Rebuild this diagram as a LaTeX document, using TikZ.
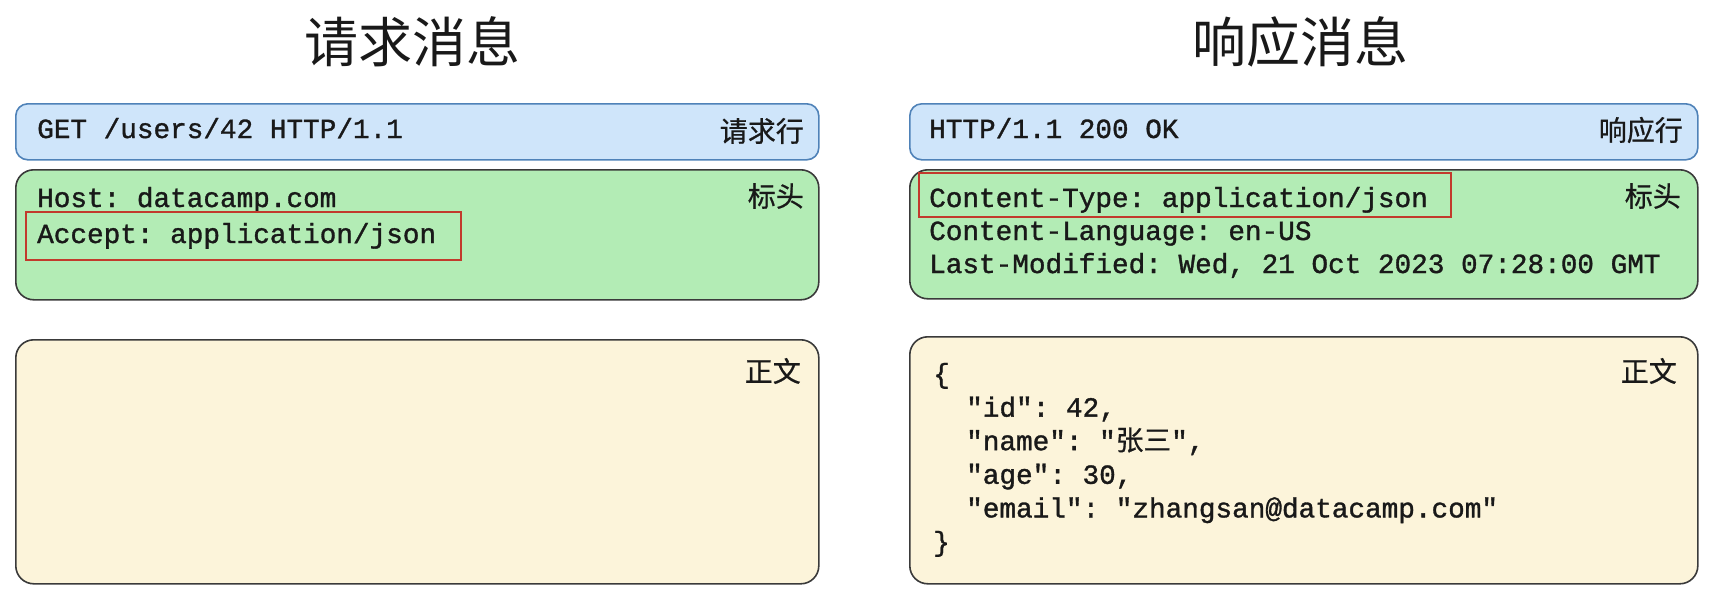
\documentclass[tikz,border=0pt]{standalone}
\usepackage{fontspec}
\usepackage{tikz}
\usepackage{xcolor}
\setmonofont[FakeBold=1.2]{Liberation Mono}
\newfontfamily\cjk{Noto Sans CJK SC}
\newfontfamily\cjkcode[FakeBold=0.6]{Noto Sans CJK SC}
\definecolor{rowblue}{HTML}{CFE5FA}
\definecolor{rowedge}{HTML}{4F82B8}
\definecolor{headgreen}{HTML}{B3ECB5}
\definecolor{bodyyellow}{HTML}{FCF4DA}
\definecolor{boxedge}{HTML}{3A3A3A}
\definecolor{markred}{HTML}{C23A2C}

\begin{document}
\begin{tikzpicture}[x=1pt,y=-1pt,
    part/.style={draw=boxedge,line width=1.6pt,rounded corners=18pt,anchor=north west,inner sep=0pt},
    code/.style={anchor=base west,inner sep=0pt,text=black!90,font=\fontsize{27.7}{30}\selectfont\ttfamily},
    tag/.style={anchor=east,inner sep=0pt,text=black!90,font=\fontsize{28}{30}\selectfont\cjkcode},
    title/.style={inner sep=0pt,text=black!90,font=\fontsize{54}{60}\selectfont\cjk},
    hilite/.style={draw=markred,line width=2.8pt}]
      \useasboundingbox (0,0) rectangle (1712,608);
      \node [title] (reqtitle) at (412,42) {请求消息};
      \node [title] (restitle) at (1300,42) {响应消息};
      \node [part,fill=rowblue,draw=rowedge,rounded corners=12pt,minimum width=803pt,minimum height=56pt] (reqline) at (15,103) {};
      \node [part,fill=headgreen,minimum width=803pt,minimum height=130pt] (reqhead) at (15,169) {};
      \node [part,fill=bodyyellow,minimum width=803pt,minimum height=244pt] (reqbody) at (15,339) {};
      \node [part,fill=rowblue,draw=rowedge,rounded corners=12pt,minimum width=788pt,minimum height=56pt] (resline) at (909,103) {};
      \node [part,fill=headgreen,minimum width=788pt,minimum height=129pt] (reshead) at (909,169) {};
      \node [part,fill=bodyyellow,minimum width=788pt,minimum height=247pt] (resbody) at (909,336) {};
      \node [tag] (reqlinetag) at (804,131) {请求行};
      \node [tag] (reqheadtag) at (804,196) {标头};
      \node [tag] (reqbodytag) at (801,371) {正文};
      \node [tag] (reslinetag) at (1683,130) {响应行};
      \node [tag] (resheadtag) at (1681,196) {标头};
      \node [tag] (resbodytag) at (1677,371) {正文};
      \node [code] (get) at (37,138) {GET /users/42 HTTP/1.1};
      \node [code] (host) at (37,207) {Host: datacamp.com};
      \node [code] (accept) at (37,243) {Accept: application/json};
      \draw [hilite] (26,212) rectangle (461,260);
      \node [code] (status) at (929,138) {HTTP/1.1 200 OK};
      \node [code] (ctype) at (929,207) {Content-Type: application/json};
      \node [code] (clang) at (929,240) {Content-Language: en-US};
      \node [code] (lastmod) at (929,273) {Last-Modified: Wed, 21 Oct 2023 07:28:00 GMT};
      \draw [hilite] (919,173) rectangle (1451,217);
      \node [code] (open) at (933,383) {\{};
      \node [code] (id) at (966,416.6) {"id": 42,};
      \node [code] (name) at (966,450.2) {"name": "{\cjkcode 张三}",};
      \node [code] (age) at (966,483.8) {"age": 30,};
      \node [code] (email) at (966,517.4) {"email": "zhangsan@datacamp.com"};
      \node [code] (close) at (933,551) {\}};
    \end{tikzpicture}
\end{document}
